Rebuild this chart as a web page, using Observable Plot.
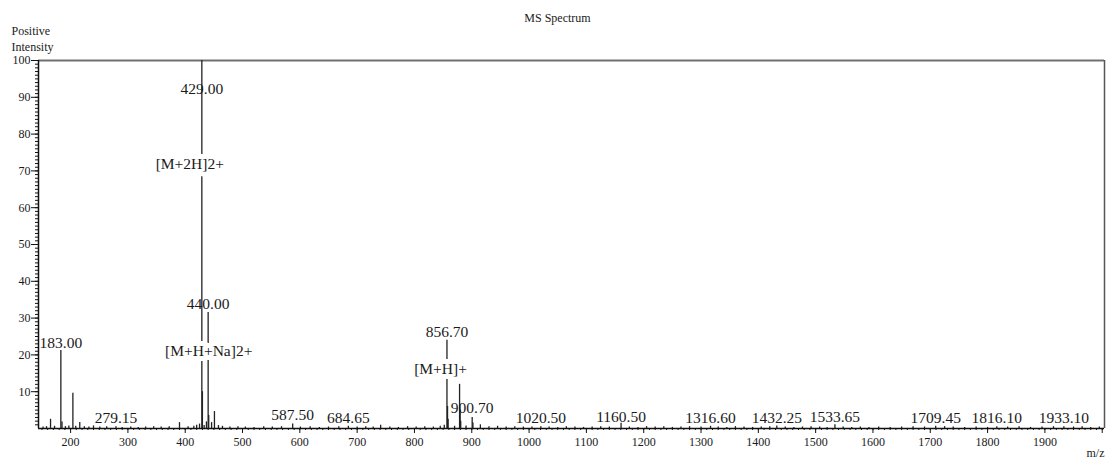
<!DOCTYPE html>
<html>
<head>
<meta charset="utf-8">
<script src="https://cdn.jsdelivr.net/npm/d3@7"></script>
<script src="https://cdn.jsdelivr.net/npm/@observablehq/plot@0.6"></script>
<style>
  body { margin: 0; background: #fff; }
  #chart svg { display: block; }
</style>
</head>
<body>
<div id="chart"></div>
<script>
// ---- data ----
const peakMz = [152, 158, 165, 172, 183, 185, 191, 197, 204, 209, 216, 224, 232, 240, 251, 263, 279.15, 290, 305, 318, 331, 345, 358, 372, 390, 405, 415, 420, 425, 429, 430, 433, 437, 440, 441, 446, 451, 458, 465, 478, 492, 505, 520, 537, 552, 568, 587.5, 601, 618, 634, 650, 668, 684.65, 700, 715, 728, 741, 757, 772, 788, 803, 818, 833, 845, 852, 856.7, 857.7, 858.7, 870, 878.7, 879.7, 880.7, 890, 900.7, 902, 915, 930, 945, 960, 975, 990, 1005, 1020.5, 1035, 1050, 1065, 1080, 1095, 1110, 1125, 1140, 1160.5, 1175, 1190, 1205, 1220, 1235, 1250, 1265, 1280, 1300, 1316.6, 1330, 1345, 1360, 1375, 1390, 1405, 1420, 1432.25, 1447, 1462, 1477, 1492, 1507, 1520, 1533.65, 1548, 1563, 1578, 1593, 1610, 1630, 1650, 1670, 1690, 1709.45, 1725, 1740, 1760, 1780, 1800, 1816.1, 1835, 1855, 1875, 1895, 1915, 1933.1, 1950, 1965, 1980, 1995];
const peakIntensity = [0.4, 0.5, 2.5, 0.6, 21.2, 1.8, 0.5, 0.7, 9.6, 0.6, 1.6, 0.5, 0.4, 0.7, 0.4, 0.5, 0.5, 0.3, 0.4, 0.3, 0.4, 0.5, 0.4, 0.5, 1.6, 0.5, 0.6, 0.9, 1.2, 100, 10, 0.8, 1.8, 31.5, 3.5, 1.6, 4.6, 0.8, 0.6, 0.4, 0.5, 0.4, 0.3, 0.5, 0.4, 0.5, 1.2, 0.4, 0.5, 0.3, 0.4, 0.5, 0.6, 0.4, 0.5, 0.4, 0.9, 0.4, 0.3, 0.5, 0.4, 0.5, 0.4, 0.6, 0.9, 24, 6, 2.5, 0.6, 12, 5, 2, 0.7, 3, 1.5, 1.0, 0.5, 0.6, 0.4, 0.5, 0.4, 0.4, 0.5, 0.4, 0.3, 0.5, 0.4, 0.3, 0.4, 0.5, 0.4, 1.4, 0.4, 0.3, 0.5, 0.4, 0.5, 0.3, 0.4, 0.5, 0.4, 0.6, 0.4, 0.3, 0.5, 0.4, 0.3, 0.4, 0.5, 0.7, 0.4, 0.3, 0.4, 0.5, 0.4, 0.3, 1.0, 0.4, 0.3, 0.4, 0.3, 0.4, 0.3, 0.4, 0.5, 0.4, 0.6, 0.5, 0.4, 0.3, 0.4, 0.3, 0.5, 0.4, 0.5, 0.3, 0.4, 0.5, 0.5, 0.4, 0.5, 0.3, 0.4];

// peak m/z labels: text, m/z, label baseline level (intensity units)
const mzLabelText  = ["183.00", "429.00", "440.00", "856.70", "279.15", "587.50", "684.65", "900.70", "1020.50", "1160.50", "1316.60", "1432.25", "1533.65", "1709.45", "1816.10", "1933.10"];
const mzLabelMz    = [183, 429, 440, 856.7, 279.15, 587.5, 684.65, 900.7, 1020.5, 1160.5, 1316.6, 1432.25, 1533.65, 1709.45, 1816.1, 1933.1];
const mzLabelLevel = [22.0, 91.0, 32.6, 25.0, 1.6, 2.2, 1.6, 4.1, 1.4, 1.9, 1.4, 1.4, 1.9, 1.6, 1.6, 1.6];

// ion annotations
const ionText  = ["[M+2H]2+", "[M+H+Na]2+", "[M+H]+"];
const ionMz    = [408, 441, 845.5];
const ionLevel = [70.4, 19.6, 14.7];

// axis ticks
const xTickValues = [200, 300, 400, 500, 600, 700, 800, 900, 1000, 1100, 1200, 1300, 1400, 1500, 1600, 1700, 1800, 1900];
const yTickValues = [10, 20, 30, 40, 50, 60, 70, 80, 90, 100];
const xMinorTicks = d3.range(150, 2001, 10);
const yMinorTicks = d3.range(1, 100, 1);

const peaks = peakMz.map((mz, i) => ({mz, intensity: peakIntensity[i]}));
const mzLabels = mzLabelText.map((label, i) => ({label, mz: mzLabelMz[i], level: mzLabelLevel[i]}));
const ions = ionText.map((label, i) => ({label, mz: ionMz[i], level: ionLevel[i]}));

const ink = "#1a1a1a";
const xMin = 144, xMax = 2004;

const chart = Plot.plot({
  width: 1107,
  height: 461,
  marginLeft: 38,
  marginRight: 3,
  marginTop: 60,
  marginBottom: 33,
  style: {fontFamily: "'Liberation Serif', 'Times New Roman', serif", fontSize: "12px", color: ink, background: "#fff"},
  x: {domain: [xMin, xMax]},
  y: {domain: [0, 100]},
  marks: [
    // frame: top and right in grey
    Plot.ruleY([100], {stroke: "#707070", strokeWidth: 2}),
    Plot.ruleX([xMax], {stroke: "#555", strokeWidth: 1.5}),
    // spectrum sticks
    Plot.ruleX(peaks, {x: "mz", y1: 0, y2: "intensity", stroke: "#222", strokeWidth: 1.3}),
    // axis lines
    Plot.ruleY([0], {stroke: "#111", strokeWidth: 1.5}),
    Plot.ruleX([xMin], {stroke: "#111", strokeWidth: 1.5}),
    // x axis
    Plot.axisX(xMinorTicks, {tickSize: 2, fill: "none", stroke: "#111", label: null}),
    Plot.axisX([2000], {tickSize: 5, fill: "none", stroke: "#111", label: null}),
    Plot.axisX(xTickValues, {tickSize: 5, tickPadding: 4, fontSize: 12, stroke: "#111", fill: ink, label: null, tickFormat: d => String(d)}),
    // y axis
    Plot.axisY(yMinorTicks, {tickSize: 3, fill: "none", stroke: "#111", label: null}),
    Plot.axisY(yTickValues, {tickSize: 7, tickPadding: 1, fontSize: 12, stroke: "#111", fill: ink, label: null, tickFormat: d => String(d)}),
    // peak labels
    Plot.text(mzLabels, {x: "mz", y: "level", text: "label", lineAnchor: "bottom", fontSize: 15.5, fill: ink}),
    Plot.text(ions, {x: "mz", y: "level", text: "label", lineAnchor: "bottom", fontSize: 15.5, fill: ink, stroke: "white", strokeWidth: 10}),
    // titles
    Plot.text(["MS Spectrum"], {frameAnchor: "top", dx: -14, dy: -39, lineAnchor: "bottom", fontSize: 12, fill: ink}),
    Plot.text(["Positive\nIntensity"], {frameAnchor: "top-left", dx: -27, dy: -10, textAnchor: "start", lineAnchor: "bottom", fontSize: 12, lineHeight: 1.33, fill: ink}),
    Plot.text(["m/z"], {frameAnchor: "bottom-right", dx: 0, dy: 28, textAnchor: "end", lineAnchor: "bottom", fontSize: 12, fill: ink})
  ]
});

document.getElementById("chart").append(chart);
</script>
</body>
</html>
